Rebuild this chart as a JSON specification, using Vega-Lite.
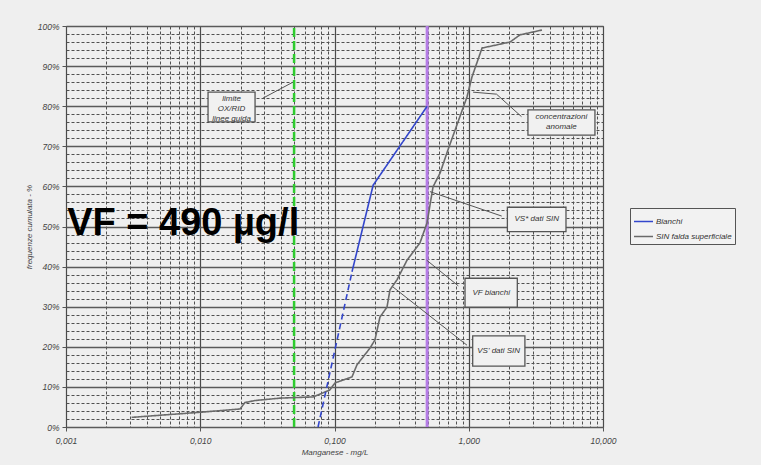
{
  "$schema": "https://vega.github.io/schema/vega-lite/v6.json",
  "width": 537,
  "height": 401,
  "autosize": {"type": "none"},
  "padding": {"left": 66, "top": 26, "right": 158, "bottom": 38},
  "background": "#efefef",
  "config": {
    "view": {"stroke": "#555555", "strokeWidth": 1, "fill": "#efefef"},
    "font": "Liberation Sans",
    "axis": {
      "labelFont": "Liberation Sans",
      "labelFontStyle": "italic",
      "labelFontSize": 8.5,
      "labelColor": "#444444",
      "titleFont": "Liberation Sans",
      "titleFontStyle": "italic",
      "titleFontWeight": "normal",
      "titleFontSize": 8,
      "titleColor": "#444444",
      "domain": false,
      "tickColor": "#555555",
      "tickSize": 4,
      "labelOverlap": false,
      "labelFlush": false,
      "labelBound": false
    }
  },
  "datasets": {
    "curve": [
      {"serie": "SIN falda superficiale", "tratto": "pieno", "x": 0.00308, "y": 2.4},
      {"serie": "SIN falda superficiale", "tratto": "pieno", "x": 0.0102, "y": 3.7},
      {"serie": "SIN falda superficiale", "tratto": "pieno", "x": 0.0198, "y": 4.5},
      {"serie": "SIN falda superficiale", "tratto": "pieno", "x": 0.0215, "y": 6.1},
      {"serie": "SIN falda superficiale", "tratto": "pieno", "x": 0.0256, "y": 6.6},
      {"serie": "SIN falda superficiale", "tratto": "pieno", "x": 0.0393, "y": 7.2},
      {"serie": "SIN falda superficiale", "tratto": "pieno", "x": 0.0692, "y": 7.5},
      {"serie": "SIN falda superficiale", "tratto": "pieno", "x": 0.092, "y": 9.2},
      {"serie": "SIN falda superficiale", "tratto": "pieno", "x": 0.1009, "y": 11.0},
      {"serie": "SIN falda superficiale", "tratto": "pieno", "x": 0.135, "y": 12.5},
      {"serie": "SIN falda superficiale", "tratto": "pieno", "x": 0.147, "y": 15.5},
      {"serie": "SIN falda superficiale", "tratto": "pieno", "x": 0.184, "y": 19.7},
      {"serie": "SIN falda superficiale", "tratto": "pieno", "x": 0.2, "y": 21.7},
      {"serie": "SIN falda superficiale", "tratto": "pieno", "x": 0.218, "y": 27.4},
      {"serie": "SIN falda superficiale", "tratto": "pieno", "x": 0.246, "y": 29.9},
      {"serie": "SIN falda superficiale", "tratto": "pieno", "x": 0.259, "y": 34.2},
      {"serie": "SIN falda superficiale", "tratto": "pieno", "x": 0.292, "y": 36.7},
      {"serie": "SIN falda superficiale", "tratto": "pieno", "x": 0.347, "y": 41.6},
      {"serie": "SIN falda superficiale", "tratto": "pieno", "x": 0.433, "y": 45.9},
      {"serie": "SIN falda superficiale", "tratto": "pieno", "x": 0.489, "y": 50.9},
      {"serie": "SIN falda superficiale", "tratto": "pieno", "x": 0.542, "y": 59.9},
      {"serie": "SIN falda superficiale", "tratto": "pieno", "x": 0.611, "y": 63.3},
      {"serie": "SIN falda superficiale", "tratto": "pieno", "x": 0.7, "y": 69.1},
      {"serie": "SIN falda superficiale", "tratto": "pieno", "x": 0.97, "y": 82.3},
      {"serie": "SIN falda superficiale", "tratto": "pieno", "x": 1.057, "y": 87.3},
      {"serie": "SIN falda superficiale", "tratto": "pieno", "x": 1.256, "y": 94.5},
      {"serie": "SIN falda superficiale", "tratto": "pieno", "x": 2.03, "y": 96.0},
      {"serie": "SIN falda superficiale", "tratto": "pieno", "x": 2.41, "y": 97.8},
      {"serie": "SIN falda superficiale", "tratto": "pieno", "x": 3.01, "y": 98.5},
      {"serie": "SIN falda superficiale", "tratto": "pieno", "x": 3.51, "y": 99.0},
      {"serie": "Bianchi", "tratto": "tratteggiato", "x": 0.0754, "y": 0},
      {"serie": "Bianchi", "tratto": "tratteggiato", "x": 0.135, "y": 38.7},
      {"serie": "Bianchi", "tratto": "pieno", "x": 0.135, "y": 38.7},
      {"serie": "Bianchi", "tratto": "pieno", "x": 0.194, "y": 60.3},
      {"serie": "Bianchi", "tratto": "pieno", "x": 0.49, "y": 80}
    ],
    "leaders": [
      {"x": 0.0293, "y": 82.0, "x2": 0.0491, "y2": 86.0},
      {"x": 2.47, "y": 77.4, "x2": 1.61, "y2": 83.0},
      {"x": 1.61, "y": 83.0, "x2": 1.077, "y2": 83.5},
      {"x": 1.76, "y": 52.6, "x2": 0.514, "y2": 58.7},
      {"x": 0.836, "y": 35.2, "x2": 0.486, "y2": 41.6},
      {"x": 0.97, "y": 20.4, "x2": 0.273, "y2": 34.9}
    ],
    "boxes": [
      {"x": 0.01143, "x2": 0.0256, "y": 83.5, "y2": 76.1, "xc": 0.0171, "yc": 81.9, "label": "limite\nOX/RID\nlinee guida"},
      {"x": 2.76, "x2": 8.71, "y": 79.1, "y2": 72.8, "xc": 4.9, "yc": 77.3, "label": "concentrazioni\nanomale"},
      {"x": 1.94, "x2": 5.3, "y": 54.8, "y2": 48.7, "xc": 3.21, "yc": 51.75, "label": "VS* dati SIN"},
      {"x": 0.938, "x2": 2.3, "y": 37.1, "y2": 29.9, "xc": 1.47, "yc": 33.5, "label": "VF bianchi"},
      {"x": 1.07, "x2": 2.62, "y": 22.7, "y2": 15.2, "xc": 1.67, "yc": 18.95, "label": "VS' dati SIN"}
    ]
  },
  "encoding": {
    "x": {
      "field": "x",
      "type": "quantitative",
      "scale": {"type": "log", "domain": [0.001, 10], "nice": false},
      "axis": {
        "title": "Manganese - mg/L",
        "titlePadding": 4,
        "labelPadding": 5,
        "values": [0.001, 0.002, 0.003, 0.004, 0.005, 0.006, 0.007, 0.008, 0.009, 0.01, 0.02, 0.03, 0.04, 0.05, 0.06, 0.07, 0.08, 0.09, 0.1, 0.2, 0.3, 0.4, 0.5, 0.6, 0.7, 0.8, 0.9, 1, 2, 3, 4, 5, 6, 7, 8, 9, 10],
        "labelExpr": "abs(log(datum.value)/LN10 - round(log(datum.value)/LN10)) < 0.0001 ? replace(format(datum.value, '.3f'), '.', ',') : ''",
        "grid": true,
        "gridColor": {"condition": {"test": "abs(log(datum.value)/LN10 - round(log(datum.value)/LN10)) < 0.0001", "value": "#4a4a4a"}, "value": "#505050"},
        "gridDash": {"condition": {"test": "abs(log(datum.value)/LN10 - round(log(datum.value)/LN10)) < 0.0001", "value": [1, 0]}, "value": [3, 2]},
        "gridWidth": {"condition": {"test": "abs(log(datum.value)/LN10 - round(log(datum.value)/LN10)) < 0.0001", "value": 1.2}, "value": 1},
        "tickOpacity": {"condition": {"test": "abs(log(datum.value)/LN10 - round(log(datum.value)/LN10)) < 0.0001", "value": 1}, "value": 0}
      }
    },
    "y": {
      "field": "y",
      "type": "quantitative",
      "scale": {"domain": [0, 100], "nice": false},
      "axis": {
        "title": "frequenze cumulata - %",
        "titlePadding": 4,
        "labelPadding": 3,
        "values": [0, 2, 4, 6, 8, 10, 12, 14, 16, 18, 20, 22, 24, 26, 28, 30, 32, 34, 36, 38, 40, 42, 44, 46, 48, 50, 52, 54, 56, 58, 60, 62, 64, 66, 68, 70, 72, 74, 76, 78, 80, 82, 84, 86, 88, 90, 92, 94, 96, 98, 100],
        "labelExpr": "datum.value % 10 === 0 ? datum.value + '%' : ''",
        "grid": true,
        "gridColor": {"condition": {"test": "datum.value % 10 === 0", "value": "#5a5a5a"}, "value": "#505050"},
        "gridDash": {"condition": {"test": "datum.value % 10 === 0", "value": [1, 0]}, "value": [3, 2]},
        "gridWidth": {"condition": {"test": "datum.value % 10 === 0", "value": 1.3}, "value": 1},
        "tickOpacity": {"condition": {"test": "datum.value % 10 === 0", "value": 1}, "value": 0}
      }
    }
  },
  "layer": [
    {
      "data": {"values": [{"x": 0.05, "y": 0, "y2": 100}]},
      "mark": {"type": "rule", "color": "#2ecc2e", "strokeWidth": 2.5, "strokeDash": [9, 4]},
      "encoding": {"y2": {"field": "y2"}}
    },
    {
      "data": {"values": [{"x": 0.49, "y": 0, "y2": 100}]},
      "mark": {"type": "rule", "color": "#b57ce6", "strokeWidth": 3},
      "encoding": {"y2": {"field": "y2"}}
    },
    {
      "data": {"name": "curve"},
      "mark": {"type": "line", "strokeWidth": 1.6},
      "encoding": {
        "color": {
          "field": "serie",
          "type": "nominal",
          "scale": {"domain": ["Bianchi", "SIN falda superficiale"], "range": ["#3346cc", "#6a6a6a"]},
          "legend": {
            "title": null,
            "orient": "none",
            "legendX": 564,
            "legendY": 182,
            "direction": "vertical",
            "symbolType": "stroke",
            "symbolSize": 361,
            "symbolStrokeWidth": 1.5,
            "labelFont": "Liberation Sans",
            "labelFontSize": 8,
            "labelFontStyle": "italic",
            "labelColor": "#333333",
            "strokeColor": "#555555",
            "fillColor": "#f2f2f2",
            "padding": 3,
            "rowPadding": 0,
            "labelOffset": 2
          }
        },
        "strokeDash": {
          "field": "tratto",
          "type": "nominal",
          "scale": {"domain": ["pieno", "tratteggiato"], "range": [[1, 0], [6, 4]]},
          "legend": null
        }
      }
    },
    {
      "data": {"name": "leaders"},
      "mark": {"type": "rule", "color": "#555555", "strokeWidth": 1},
      "encoding": {"x2": {"field": "x2"}, "y2": {"field": "y2"}}
    },
    {
      "data": {"name": "boxes"},
      "mark": {"type": "rect", "fill": "#f1f1f1", "stroke": "#555555", "strokeWidth": 1.3},
      "encoding": {"x2": {"field": "x2"}, "y2": {"field": "y2"}}
    },
    {
      "data": {"name": "boxes"},
      "mark": {"type": "text", "fontSize": 8, "fontStyle": "italic", "color": "#333333", "lineBreak": "\n", "lineHeight": 10, "align": "center", "baseline": "middle"},
      "encoding": {
        "x": {"field": "xc", "type": "quantitative"},
        "y": {"field": "yc", "type": "quantitative"},
        "text": {"field": "label"}
      }
    },
    {
      "data": {"values": [{"x": 0.00102, "y": 47.8, "testo": "VF = 490 µg/l"}]},
      "mark": {"type": "text", "fontSize": 38, "fontWeight": "bold", "font": "Liberation Sans", "color": "#000000", "align": "left", "baseline": "alphabetic"},
      "encoding": {"text": {"field": "testo"}}
    }
  ]
}
